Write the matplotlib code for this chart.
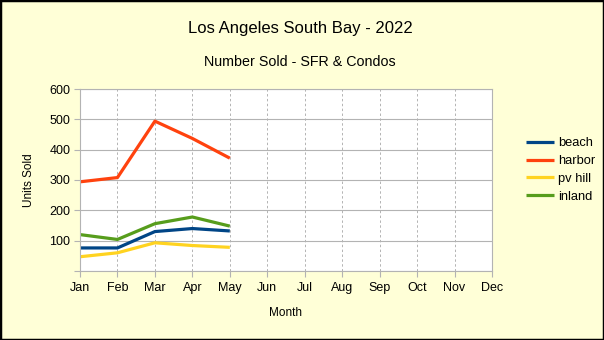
import matplotlib
matplotlib.use("Agg")
import matplotlib.pyplot as plt
from matplotlib.patches import Rectangle

months = ["Jan", "Feb", "Mar", "Apr", "May", "Jun", "Jul", "Aug", "Sep", "Oct", "Nov", "Dec"]
beach = [76, 76, 130, 140, 132]
harbor = [294, 308, 494, 437, 372]
pv_hill = [47, 60, 93, 84, 78]
inland = [120, 104, 156, 178, 148]
yticks = [100, 200, 300, 400, 500, 600]

plt.rcParams['font.family'] = ['Liberation Sans', 'DejaVu Sans']
bg = "#ffffd7"
fig = plt.figure(figsize=(6.04, 3.4), dpi=100, facecolor=bg)
fig.patches.append(Rectangle((0, 0), 1, 1, transform=fig.transFigure, fill=False,
                             edgecolor="black", linewidth=2.5, zorder=10))
ax = fig.add_axes([80/604, 69/340, 412/604, 182/340])
ax.set_facecolor("white")

x = list(range(12))
series = [("beach", beach, "#004586"), ("harbor", harbor, "#ff420e"),
          ("pv hill", pv_hill, "#ffd320"), ("inland", inland, "#579d1c")]
for name, vals, c in series:
    ax.plot(x[:len(vals)], vals, color=c, linewidth=2.3, label=name, solid_capstyle="butt")

ax.set_xlim(0, 11)
ax.set_ylim(0, 600)
ax.set_xticks(x)
ax.set_xticklabels(months)
ax.set_yticks([0] + yticks)
ax.set_yticklabels([""] + [str(v) for v in yticks])
ax.grid(axis="y", color="#b3b3b3", linewidth=0.8, linestyle="-")
ax.grid(axis="x", color="#b3b3b3", linewidth=0.7, linestyle=(0, (2.5, 2.5)))
ax.set_axisbelow(True)
for s in ax.spines.values():
    s.set_color("#b3b3b3")
    s.set_linewidth(0.8)
ax.tick_params(colors="#b3b3b3", labelcolor="black", labelsize=9, length=4, width=0.8)
ax.tick_params(axis="x", pad=4)
ax.tick_params(axis="y", pad=3)

ax.set_xlabel("Month", fontsize=8.5, labelpad=9)
ax.set_ylabel("Units Sold", fontsize=8.5, labelpad=10)

fig.text(300/604, 1 - 28/340, "Los Angeles South Bay - 2022", ha="center", va="center", fontsize=12)
fig.text(300/604, 1 - 62/340, "Number Sold - SFR & Condos", ha="center", va="center", fontsize=10.3)

leg = fig.legend(loc="center left", bbox_to_anchor=(514/604, 1 - 170/340), frameon=False,
                 fontsize=9.3, handlelength=2.2, handletextpad=0.3, labelspacing=0.45)

fig.savefig("out.png", dpi=100, facecolor=bg)
